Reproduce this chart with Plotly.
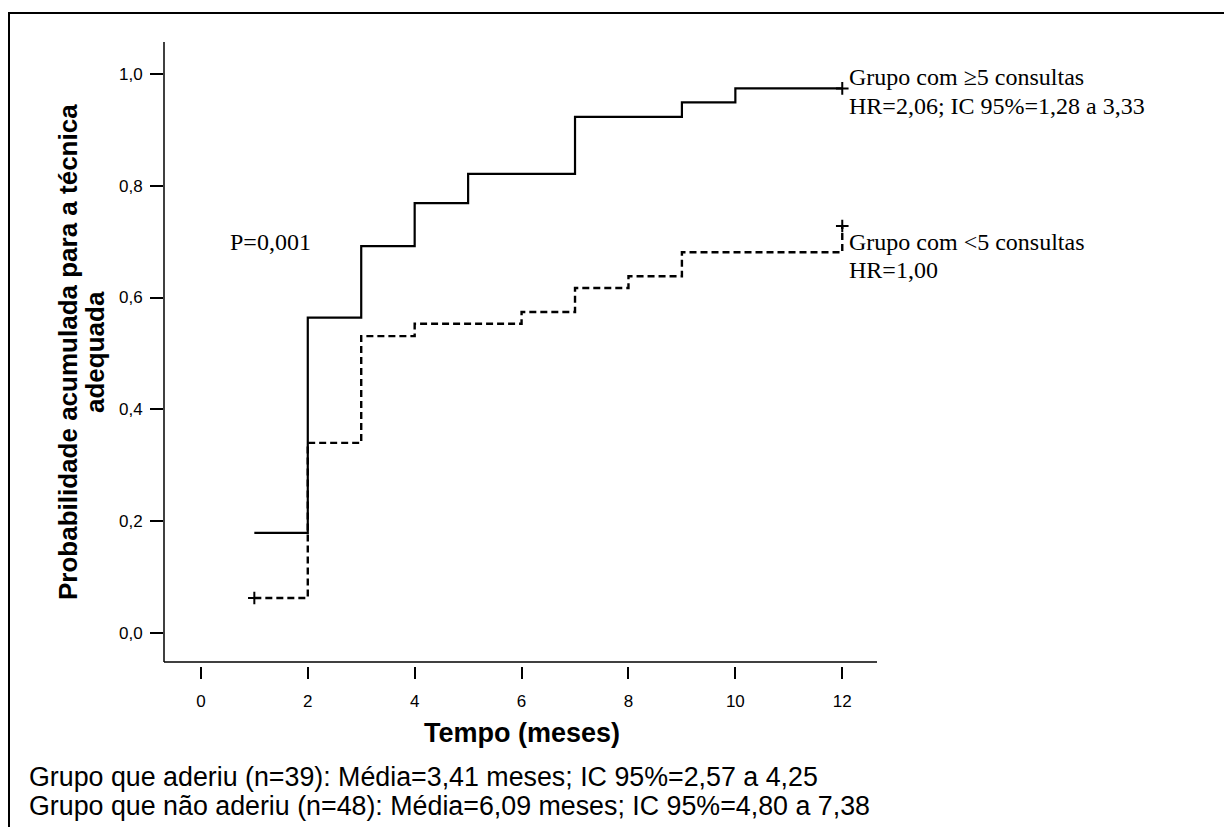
import plotly.graph_objects as go

# ---- data ----
grp5_t = [1, 2, 3, 4, 5, 7, 9, 10, 12]
grp5_p = [0.179, 0.564, 0.692, 0.769, 0.821, 0.923, 0.949, 0.974, 0.974]
grp5_cens_t = [12]
grp5_cens_p = [0.974]

grp_lt5_t = [1, 2, 3, 4, 6, 7, 8, 9, 12]
grp_lt5_p = [0.0625, 0.340, 0.531, 0.553, 0.574, 0.617, 0.638, 0.681, 0.728]
grp_lt5_cens_t = [1, 12]
grp_lt5_cens_p = [0.0625, 0.728]

x_tickvals = [0, 2, 4, 6, 8, 10, 12]
x_ticktext = ["0", "2", "4", "6", "8", "10", "12"]
y_tickvals = [0.0, 0.2, 0.4, 0.6, 0.8, 1.0]
y_ticktext = ["0,0", "0,2", "0,4", "0,6", "0,8", "1,0"]

SANS = "Liberation Sans, Arial, sans-serif"
SERIF = "Liberation Serif, Times New Roman, serif"

# page body has an 8px margin; work in page pixel coordinates
OFF = 8
W, H = 1232 - OFF, 827 - OFF
PL, PR, PT, PB = 164, 877, 42, 666  # plot area in page pixels
L, R, T, B = PL - OFF, W - (PR - OFF), PT - OFF, H - (PB - OFF)
pw, ph = PR - PL, PB - PT


def px(xp):
    return (xp - PL) / pw


def py(yp):
    return (PB - yp) / ph


fig = go.Figure()
fig.add_trace(go.Scatter(x=grp5_t, y=grp5_p, mode="lines", line_shape="hv",
                         line=dict(color="black", width=2.2), showlegend=False))
fig.add_trace(go.Scatter(x=grp_lt5_t, y=grp_lt5_p, mode="lines", line_shape="hv",
                         line=dict(color="black", width=2.4, dash="7px,4px"), showlegend=False))
fig.add_trace(go.Scatter(x=grp5_cens_t + grp_lt5_cens_t, y=grp5_cens_p + grp_lt5_cens_p,
                         mode="markers",
                         marker=dict(symbol="cross-thin", size=9, color="black",
                                     line=dict(color="black", width=2)),
                         showlegend=False))

fig.update_layout(
    width=W, height=H,
    margin=dict(l=L, r=R, t=T, b=B, pad=0),
    paper_bgcolor="white", plot_bgcolor="white",
    font=dict(family=SANS, color="black"),
    xaxis=dict(range=[-0.69, 12.65], tickvals=x_tickvals, ticktext=x_ticktext,
               ticks="outside", ticklen=12, tickwidth=2, tickcolor="black",
               ticklabelstandoff=8,
               showline=False, showgrid=False, zeroline=False,
               tickfont=dict(family=SANS, size=17, color="black")),
    yaxis=dict(range=[-0.059, 1.057], tickvals=y_tickvals, ticktext=y_ticktext,
               ticks="outside", ticklen=13, tickwidth=2, tickcolor="black",
               ticklabelstandoff=4,
               showline=False, showgrid=False, zeroline=False,
               tickfont=dict(family=SANS, size=17, color="black")),
)

shapes = [
    # axis lines
    dict(type="line", xref="x domain", yref="y domain", x0=0, x1=1, y0=py(662), y1=py(662),
         line=dict(color="black", width=1.5)),
    dict(type="line", xref="x domain", yref="y domain", x0=0, x1=0, y0=py(662), y1=1,
         line=dict(color="black", width=1.5)),
    # outer frame
    dict(type="rect", xref="paper", yref="paper", x0=px(9), x1=px(1230), y0=py(840), y1=py(13),
         line=dict(color="black", width=2)),
]
fig.update_layout(shapes=shapes)

ann = []
ann.append(dict(text="P=0,001", x=0.5, y=0.70, xref="x", yref="y", xanchor="left", yanchor="middle",
                showarrow=False, font=dict(family=SERIF, size=24, color="black")))
ann.append(dict(text="Grupo com ≥5 consultas", x=12.08, y=0.995, xref="x", yref="y",
                xanchor="left", yanchor="middle", showarrow=False,
                font=dict(family=SERIF, size=24, color="black")))
ann.append(dict(text="HR=2,06; IC 95%=1,28 a 3,33", x=12.08, y=0.943, xref="x", yref="y",
                xanchor="left", yanchor="middle", showarrow=False,
                font=dict(family=SERIF, size=24, color="black")))
ann.append(dict(text="Grupo com &lt;5 consultas", x=12.08, y=0.70, xref="x", yref="y",
                xanchor="left", yanchor="middle", showarrow=False,
                font=dict(family=SERIF, size=24, color="black")))
ann.append(dict(text="HR=1,00", x=12.08, y=0.649, xref="x", yref="y",
                xanchor="left", yanchor="middle", showarrow=False,
                font=dict(family=SERIF, size=24, color="black")))
# axis titles
ann.append(dict(text="<b>Tempo (meses)</b>", x=px(522), y=py(733), xref="paper", yref="paper",
                xanchor="center", yanchor="middle", showarrow=False,
                font=dict(family=SANS, size=27, color="black")))
ann.append(dict(text="<b>Probabilidade acumulada para a técnica</b>", x=px(68), y=py(352),
                xref="paper", yref="paper", xanchor="center", yanchor="middle",
                textangle=-90, showarrow=False, font=dict(family=SANS, size=26, color="black")))
ann.append(dict(text="<b>adequada</b>", x=px(95), y=py(352),
                xref="paper", yref="paper", xanchor="center", yanchor="middle",
                textangle=-90, showarrow=False, font=dict(family=SANS, size=26, color="black")))
# footnotes
ann.append(dict(text="Grupo que aderiu (n=39): Média=3,41 meses; IC 95%=2,57 a 4,25",
                x=px(27), y=py(777), xref="paper", yref="paper", xanchor="left", yanchor="middle",
                showarrow=False, font=dict(family=SANS, size=26.8, color="black")))
ann.append(dict(text="Grupo que não aderiu (n=48): Média=6,09 meses; IC 95%=4,80 a 7,38",
                x=px(27), y=py(806), xref="paper", yref="paper", xanchor="left", yanchor="middle",
                showarrow=False, font=dict(family=SANS, size=26.8, color="black")))
fig.update_layout(annotations=ann)

fig.write_html("out.html")
